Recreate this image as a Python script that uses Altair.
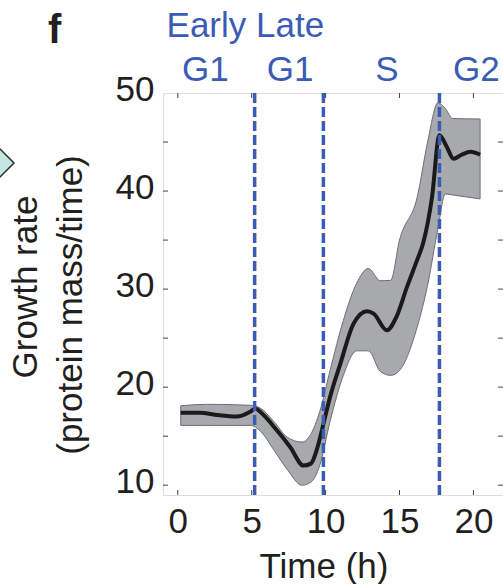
import altair as alt
import pandas as pd

# ---- data ----
t_mean = [0.2, 1.5, 2.7, 4.0, 4.9, 5.25, 5.8, 6.7, 7.6, 8.5, 9.0, 9.4, 9.86, 10.3, 11.0,
          11.9, 12.8, 13.25, 14.15, 14.8, 15.5, 16.2, 16.6, 17.2, 17.7, 18.2, 18.65, 19.2,
          19.8, 20.45]
v_mean = [17.4, 17.4, 17.15, 17.0, 17.5, 17.8, 17.15, 15.6, 13.9, 12.0, 12.2, 13.6, 16.3,
          19.0, 22.4, 26.5, 27.75, 27.5, 25.8, 27.2, 30.2, 33.0, 34.7, 39.4, 45.7, 44.5,
          43.3, 43.7, 44.0, 43.7]

t_band = [0.2, 2.0, 4.9, 5.6, 6.5, 7.4, 8.4, 9.0, 9.6, 10.3, 11.2, 12.1, 12.9, 13.7, 14.4,
          15.0, 16.2, 16.9, 17.6, 18.1, 18.6, 20.45]
v_upper = [18.1, 18.25, 18.15, 17.85, 16.5, 14.9, 14.4, 15.2, 17.5, 21.7, 26.8, 30.6, 32.1,
           30.85, 30.9, 35.0, 39.4, 45.0, 49.0, 48.4, 47.4, 47.35]
v_lower = [16.1, 16.1, 16.1, 15.5, 13.6, 11.6, 10.0, 10.3, 12.0, 16.5, 21.2, 23.7, 23.7,
           21.6, 21.2, 21.7, 26.15, 30.4, 36.2, 39.7, 39.6, 39.2]

phase_boundaries = [5.2, 9.85, 17.7]
phase_labels = ["G1", "G1", "S", "G2"]
phase_label_t = [1.87, 7.6, 14.15, 20.2]
top_label = "Early Late"
top_label_t = -0.76

x_ticks = [0, 5, 10, 15, 20]
y_ticks = [10, 20, 30, 40, 50]
y_minor = [10, 15, 20, 25, 30, 35, 40, 45]

x_title = "Time (h)"
y_title_1 = "Growth rate"
y_title_2 = "(protein mass/time)"
panel = "f"

# ---- layout ----
W, H = 340, 402
FONT = "Liberation Sans"
TXT = "#231f20"
BLUE = "#3b5cb5"

xs = alt.Scale(domain=[-1, 22], nice=False, zero=False)
ys = alt.Scale(domain=[9, 50], nice=False, zero=False)

mean_df = pd.DataFrame({"t": t_mean, "v": v_mean})
band_df = pd.DataFrame({"t": t_band, "lo": v_lower, "hi": v_upper})
bound_df = pd.DataFrame({"t": phase_boundaries})
lab_df = pd.DataFrame({"t": phase_label_t, "lab": phase_labels})
top_df = pd.DataFrame({"t": [top_label_t], "lab": [top_label]})
xt_df = pd.DataFrame({"t": x_ticks})
yt_df = pd.DataFrame({"v": y_minor})

band = alt.Chart(band_df).mark_area(
    color="#a7a9ac", opacity=1, stroke="#6d6e71", strokeWidth=1, interpolate="monotone"
).encode(
    x=alt.X("t:Q", scale=xs,
            axis=alt.Axis(values=x_ticks, title=None, ticks=False, domain=False, grid=False,
                          labelFont=FONT, labelFontSize=35, labelColor=TXT, labelPadding=9)),
    y=alt.Y("lo:Q", scale=ys,
            axis=alt.Axis(values=y_ticks, title=None, ticks=False, domain=False, grid=False,
                          labelFont=FONT, labelFontSize=35, labelColor=TXT, labelPadding=9,
                          labelOffset=-4)),
    y2="hi:Q",
)

line = alt.Chart(mean_df).mark_line(
    color="#1a1a1a", strokeWidth=4, interpolate="monotone"
).encode(x=alt.X("t:Q", scale=xs), y=alt.Y("v:Q", scale=ys))

bounds = alt.Chart(bound_df).mark_rule(
    color=BLUE, strokeWidth=3.5, strokeDash=[10, 4]
).encode(x=alt.X("t:Q", scale=xs))

# inward ticks (box style)
tick_style = dict(color="#444444", strokeWidth=1)
left_ticks = alt.Chart(yt_df).mark_rule(**tick_style).encode(
    y=alt.Y("v:Q", scale=ys), x=alt.value(0), x2=alt.value(5))
right_ticks = alt.Chart(yt_df).mark_rule(**tick_style).encode(
    y=alt.Y("v:Q", scale=ys), x=alt.value(W - 5), x2=alt.value(W))
bottom_ticks = alt.Chart(xt_df).mark_rule(**tick_style).encode(
    x=alt.X("t:Q", scale=xs), y=alt.value(H - 5), y2=alt.value(H))
top_ticks = alt.Chart(xt_df).mark_rule(**tick_style).encode(
    x=alt.X("t:Q", scale=xs), y=alt.value(0), y2=alt.value(5))

phase_text = alt.Chart(lab_df).mark_text(
    font=FONT, fontSize=35, color=BLUE, align="center", baseline="alphabetic"
).encode(x=alt.X("t:Q", scale=xs), y=alt.value(-12), text="lab:N")

top_text = alt.Chart(top_df).mark_text(
    font=FONT, fontSize=35, color=BLUE, align="left", baseline="alphabetic"
).encode(x=alt.X("t:Q", scale=xs), y=alt.value(-56), text="lab:N")

one = lambda s: alt.Chart(pd.DataFrame({"s": [s]}))

xtitle = one(x_title).mark_text(
    font=FONT, fontSize=35, color=TXT, align="center", baseline="alphabetic"
).encode(x=alt.value(161), y=alt.value(485), text="s:N")

ytitle1 = one(y_title_1).mark_text(
    font=FONT, fontSize=35, color=TXT, align="center", baseline="alphabetic", angle=270
).encode(x=alt.value(-126), y=alt.value(194), text="s:N")

ytitle2 = one(y_title_2).mark_text(
    font=FONT, fontSize=35, color=TXT, align="center", baseline="alphabetic", angle=270
).encode(x=alt.value(-81), y=alt.value(212), text="s:N")

panel_txt = one(panel).mark_text(
    font=FONT, fontSize=40, fontWeight="bold", color="#231f20", align="left",
    baseline="alphabetic"
).encode(x=alt.value(-115), y=alt.value(-50), text="s:N")

deco = one("").mark_point(
    shape="diamond", size=2500, filled=True, fill="#c6e6e6", stroke="#2b2b2b",
    strokeWidth=1.5, opacity=1
).encode(x=alt.value(-174), y=alt.value(70))

chart = alt.layer(
    band, line, bounds, left_ticks, right_ticks, bottom_ticks, top_ticks,
    phase_text, top_text, xtitle, ytitle1, ytitle2, panel_txt, deco
).properties(
    width=W, height=H,
    autosize=alt.AutoSizeParams(type="none"),
    padding={"left": 163, "top": 93, "right": 0, "bottom": 89},
).configure_view(
    stroke="#444444", strokeWidth=1.2
).configure(background="white")

chart.save("out.html", embed_options={"renderer": "svg", "actions": False})
